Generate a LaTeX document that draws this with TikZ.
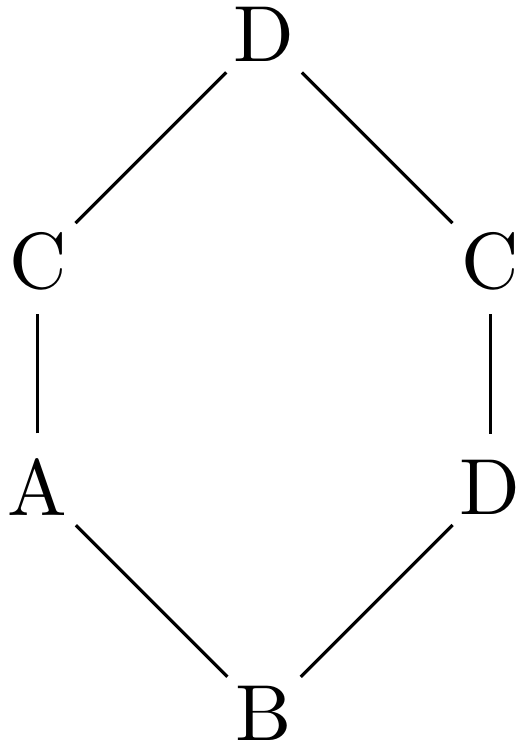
\documentclass[tikz,border=0pt]{standalone}
\usetikzlibrary{positioning}

\begin{document}
\begin{tikzpicture}[node distance=1cm and 1cm, on grid, every node/.style={circle, inner sep=1pt}]
\useasboundingbox (-0.167,-0.135) rectangle (2.149,3.153);
\node (b) at (1,0) {B};
\node[above left=1cm and 1cm of b] (a) {A};
\node[above right=1cm and 1cm of b] (dr) {D};
\node[above=1cm of a] (cl) {C};
\node[above=1cm of dr] (cr) {C};
\node[above right=1cm and 1cm of cl] (dt) {D};
\draw (b)--(a); \draw (b)--(dr); \draw (a)--(cl); \draw (dr)--(cr);
\draw (cl)--(dt); \draw (cr)--(dt);
\end{tikzpicture}
\end{document}
